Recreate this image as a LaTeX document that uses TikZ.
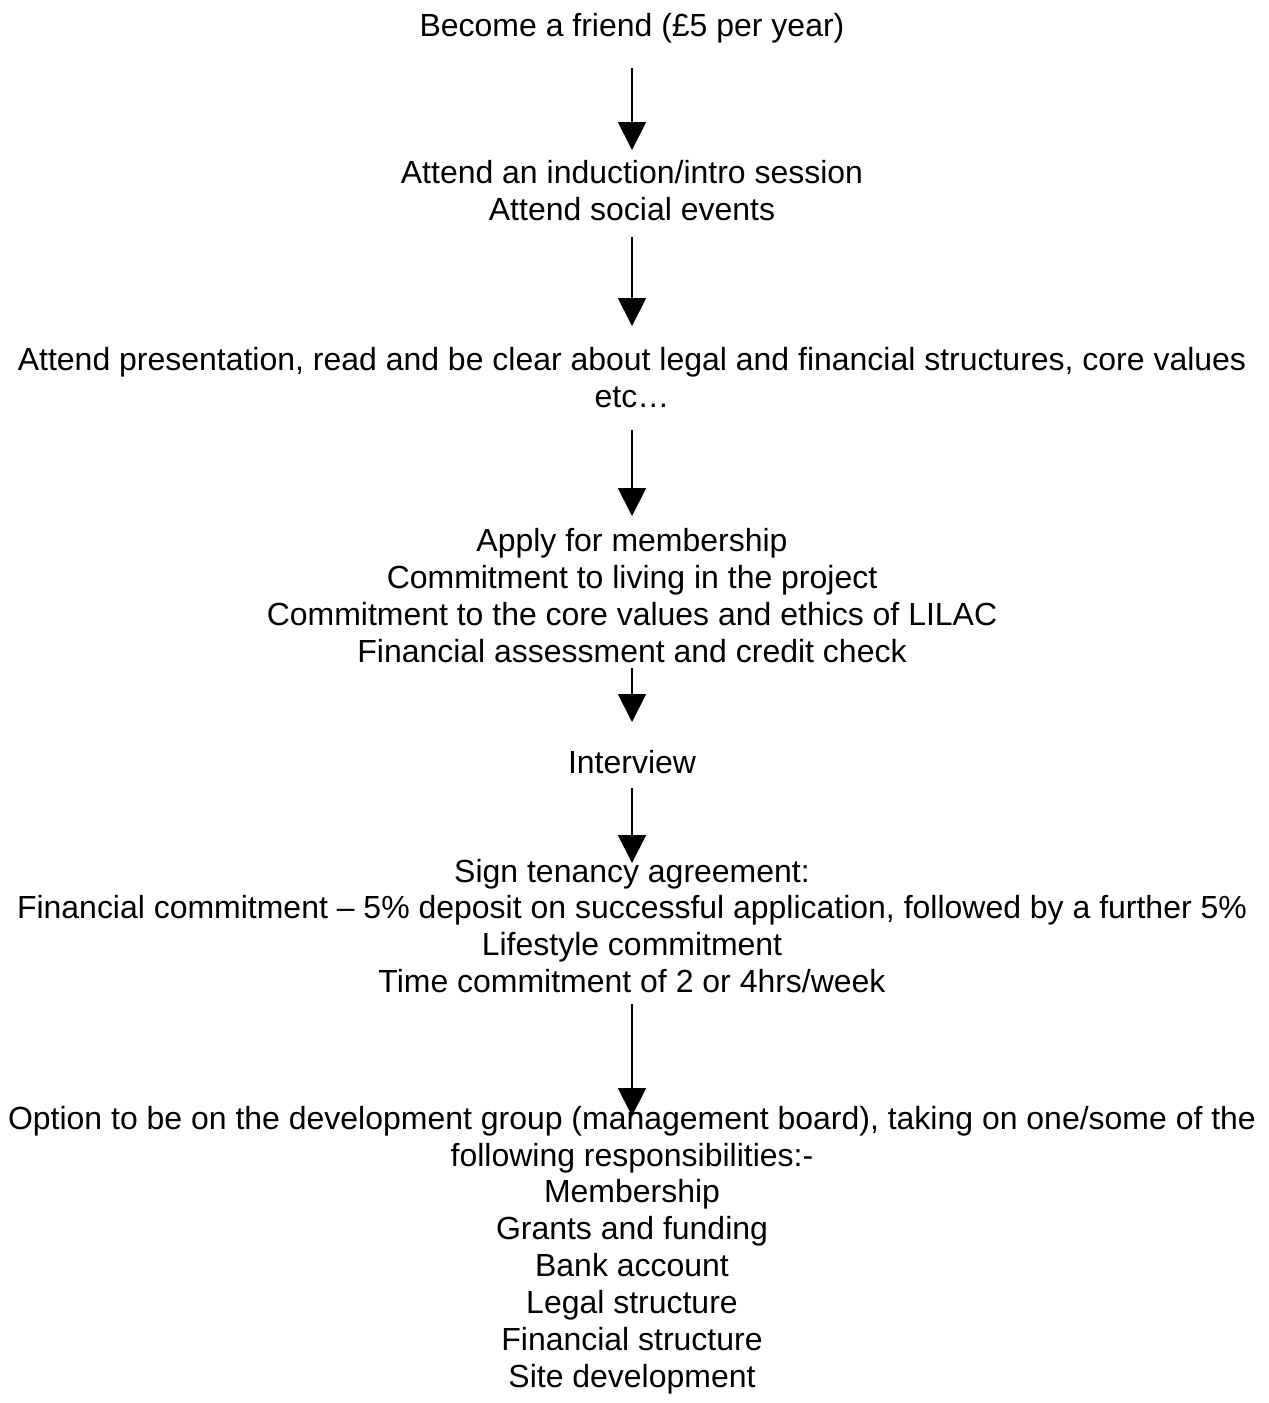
\documentclass[tikz,border=0pt]{standalone}
\usepackage{fontspec}
\setmainfont{Liberation Sans}
\usepackage{tikz}
\usetikzlibrary{arrows.meta}

\begin{document}
\begin{tikzpicture}[x=0.02cm, y=-0.02cm,
  stepbox/.style={inner sep=0pt, align=center, font=\fontsize{18.2pt}{21pt}\selectfont},
  arr/.style={-{Triangle[length=15.9pt, width=15.9pt]}, line width=1.1pt, black}
]
  \useasboundingbox (0,0) rectangle (1268,1403);

  \node[stepbox] (friend) at (632, 28) {Become a friend (£5 per year)};
  \node[stepbox] (induct) at (632, 190.5) {Attend an induction/intro session\\Attend social events};
  \node[stepbox] (present) at (632, 377.5) {Attend presentation, read and be clear about legal and financial structures, core values\\etc…};
  \node[stepbox] (apply) at (632, 595.5) {Apply for membership\\Commitment to living in the project\\Commitment to the core values and ethics of LILAC\\Financial assessment and credit check};
  \node[stepbox] (interview) at (632, 762) {Interview};
  \node[stepbox] (sign) at (632, 926) {Sign tenancy agreement:\\Financial commitment – 5\% deposit on successful application, followed by a further 5\%\\Lifestyle commitment\\Time commitment of 2 or 4hrs/week};
  \node[stepbox] (option) at (632, 1250) {Option to be on the development group (management board), taking on one/some of the\\following responsibilities:-\\Membership\\Grants and funding\\Bank account\\Legal structure\\Financial structure\\Site development};

  % arrows between the steps
  \draw[arr] ([yshift=-40*0.02cm]friend.center) -- ([yshift=40.5*0.02cm]induct.center);
  \draw[arr] ([yshift=-46.5*0.02cm]induct.center) -- ([yshift=51.5*0.02cm]present.center);
  \draw[arr] ([yshift=-52.5*0.02cm]present.center) -- ([yshift=79.5*0.02cm]apply.center);
  \draw[arr] ([yshift=-72.5*0.02cm]apply.center) -- ([yshift=40*0.02cm]interview.center);
  \draw[arr] ([yshift=-26*0.02cm]interview.center) -- ([yshift=63*0.02cm]sign.center);
  \draw[arr] ([yshift=-78*0.02cm]sign.center) -- ([yshift=134*0.02cm]option.center);
\end{tikzpicture}
\end{document}
